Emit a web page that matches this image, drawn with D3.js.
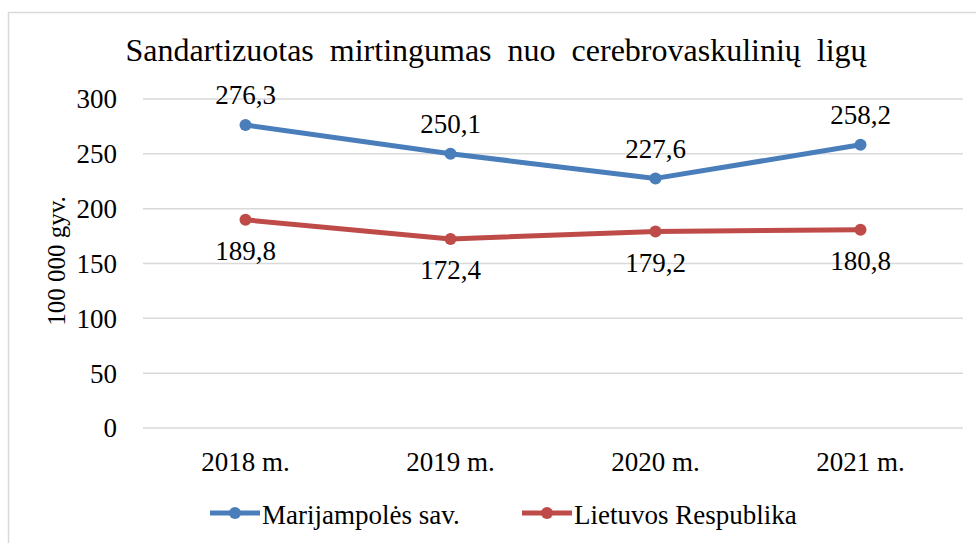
<!DOCTYPE html>
<html>
<head>
<meta charset="utf-8">
<script src="https://cdn.jsdelivr.net/npm/d3@7"></script>
<style>
  body { margin: 0; background: #fff; }
  text { font-family: "Liberation Serif", "Times New Roman", serif; fill: #000; }
</style>
</head>
<body>
<svg id="chart" width="976" height="543"></svg>
<script>
const years = ["2018 m.", "2019 m.", "2020 m.", "2021 m."];
const marijampole = [276.3, 250.1, 227.6, 258.2];
const lietuva = [189.8, 172.4, 179.2, 180.8];
const yTicks = [0, 50, 100, 150, 200, 250, 300];
const seriesNames = ["Marijampolės sav.", "Lietuvos Respublika"];

const svg = d3.select("#chart");
const width = 976, height = 543;
const margin = { left: 143, right: 13, top: 99, bottom: 115 };

// chart border (only top and left visible in the frame)
svg.append("rect")
  .attr("x", 8.5).attr("y", 12.5)
  .attr("width", 1000).attr("height", 600)
  .attr("fill", "none").attr("stroke", "#d9d9d9").attr("stroke-width", 1.5);

const x = d3.scaleBand().domain(years).range([margin.left, width - margin.right]);
const y = d3.scaleLinear().domain([0, 300]).range([height - margin.bottom, margin.top]);
const fmt = (v) => d3.format(".1f")(v).replace(".", ",");

// grid lines
svg.append("g")
  .selectAll("line")
  .data(yTicks)
  .enter()
  .append("line")
  .attr("x1", margin.left).attr("x2", width - margin.right)
  .attr("y1", (d) => y(d)).attr("y2", (d) => y(d))
  .attr("stroke", "#d9d9d9").attr("stroke-width", 1.5);

// y tick labels
svg.append("g")
  .selectAll("text")
  .data(yTicks)
  .enter()
  .append("text")
  .attr("x", 117)
  .attr("y", (d) => y(d))
  .attr("dy", "0.35em")
  .attr("text-anchor", "end")
  .attr("font-size", "27px")
  .text((d) => d);

// x labels
svg.append("g")
  .selectAll("text")
  .data(years)
  .enter()
  .append("text")
  .attr("x", (d) => x(d) + x.bandwidth() / 2)
  .attr("y", 462)
  .attr("dy", "0.35em")
  .attr("text-anchor", "middle")
  .attr("font-size", "27px")
  .text((d) => d);

// title
svg.append("text")
  .attr("x", 496).attr("y", 50)
  .attr("dy", "0.35em")
  .attr("text-anchor", "middle")
  .attr("font-size", "32px")
  .style("word-spacing", "8px")
  .text("Sandartizuotas mirtingumas nuo cerebrovaskulinių ligų");

// y axis title
svg.append("text")
  .attr("transform", "translate(56,261) rotate(-90)")
  .attr("dy", "0.35em")
  .attr("text-anchor", "middle")
  .attr("font-size", "25px")
  .text("100 000 gyv.");

const series = [
  { name: seriesNames[0], values: marijampole, color: "#4a7ebb", labelDy: -30 },
  { name: seriesNames[1], values: lietuva, color: "#be4b48", labelDy: 31 }
];

const line = d3.line()
  .x((d, i) => x(years[i]) + x.bandwidth() / 2)
  .y((d) => y(d));

series.forEach((s) => {
  svg.append("path")
    .attr("d", line(s.values))
    .attr("fill", "none")
    .attr("stroke", s.color)
    .attr("stroke-width", 5)
    .attr("stroke-linejoin", "round")
    .attr("stroke-linecap", "round");

  svg.append("g")
    .selectAll("circle")
    .data(s.values)
    .enter()
    .append("circle")
    .attr("cx", (d, i) => x(years[i]) + x.bandwidth() / 2)
    .attr("cy", (d) => y(d))
    .attr("r", 6)
    .attr("fill", s.color);

  svg.append("g")
    .selectAll("text")
    .data(s.values)
    .enter()
    .append("text")
    .attr("x", (d, i) => x(years[i]) + x.bandwidth() / 2)
    .attr("y", (d) => y(d) + s.labelDy)
    .attr("dy", "0.35em")
    .attr("text-anchor", "middle")
    .attr("font-size", "27px")
    .text((d) => fmt(d));
});

// legend
const legendX = [210, 522];
series.forEach((s, i) => {
  const g = svg.append("g").attr("transform", `translate(${legendX[i]},513)`);
  g.append("line")
    .attr("x1", 0).attr("x2", 50)
    .attr("stroke", s.color).attr("stroke-width", 5);
  g.append("circle").attr("cx", 25).attr("r", 6).attr("fill", s.color);
  g.append("text")
    .attr("x", 52).attr("y", 2).attr("dy", "0.35em")
    .attr("font-size", "27px")
    .text(s.name);
});
</script>
</body>
</html>
